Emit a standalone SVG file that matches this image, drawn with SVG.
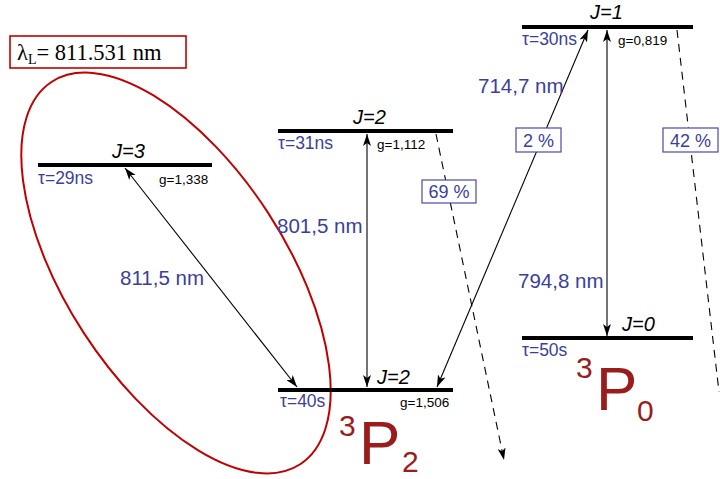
<svg xmlns="http://www.w3.org/2000/svg" width="720" height="479" viewBox="0 0 720 479">
<style>
.lvl{stroke:#000;stroke-width:4;fill:none}
.J{font-family:"Liberation Sans",Arial,sans-serif;font-style:italic;font-size:20px;fill:#000}
.tau{font-family:"Liberation Sans",Arial,sans-serif;font-size:17.5px;fill:#3a3f9c}
.g{font-family:"Liberation Sans",Arial,sans-serif;font-size:13.5px;fill:#000}
.wl{font-family:"Liberation Sans",Arial,sans-serif;font-size:20.5px;fill:#3a3f9c}
.pct{font-family:"Liberation Sans",Arial,sans-serif;font-size:18px;fill:#3a3f9c}
.pbox{fill:#fff;stroke:#4a4aa8;stroke-width:1.2}
.arr{stroke:#000;stroke-width:1.1;fill:none}
.dash{stroke:#000;stroke-width:1.1;fill:none;stroke-dasharray:8 6}
.term{font-family:"Liberation Sans",Arial,sans-serif;fill:#9b1c1c}
</style>
<defs>
<marker id="ah" viewBox="0 0 12 8" refX="12" refY="4" markerWidth="12" markerHeight="8" markerUnits="userSpaceOnUse" orient="auto-start-reverse">
<path d="M0,0 L12,4 L0,8 L3,4 z" fill="#000"/>
</marker>
</defs>

<g id="lambda-box">
<rect x="10" y="36" width="176" height="32" fill="#fff" stroke="#c00000" stroke-width="1.6"/>
<text x="17" y="60" font-family="'Liberation Serif','Times New Roman',serif" font-size="22.5" fill="#000">λ<tspan font-size="14" dy="4">L</tspan><tspan dy="-4">= 811.531 nm</tspan></text>
</g>

<g id="ellipse">
<ellipse cx="176" cy="273" rx="228" ry="110" transform="rotate(57 176 273)" fill="none" stroke="#c00000" stroke-width="2"/>
</g>

<g id="level-J3">
<line class="lvl" x1="38" y1="165" x2="212" y2="165"/>
<text class="J" x="112" y="158">J=3</text>
<text class="tau" x="38" y="184">τ=29ns</text>
<text class="g" x="159" y="184">g=1,338</text>
</g>

<g id="level-J2-upper">
<line class="lvl" x1="278" y1="131" x2="453" y2="131"/>
<text class="J" x="353" y="124">J=2</text>
<text class="tau" x="278" y="149">τ=31ns</text>
<text class="g" x="377" y="149">g=1,112</text>
</g>

<g id="level-J1">
<line class="lvl" x1="522" y1="27" x2="693" y2="27"/>
<text class="J" x="590" y="19">J=1</text>
<text class="tau" x="522" y="45">τ=30ns</text>
<text class="g" x="618" y="45">g=0,819</text>
</g>

<g id="level-J0">
<line class="lvl" x1="522" y1="338" x2="693" y2="338"/>
<text class="J" x="622" y="331">J=0</text>
<text class="tau" x="522" y="356">τ=50s</text>
</g>

<g id="level-J2-lower">
<line class="lvl" x1="278" y1="390" x2="453" y2="390"/>
<text class="J" x="377" y="384">J=2</text>
<text class="tau" x="280" y="407">τ=40s</text>
<text class="g" x="400" y="407">g=1,506</text>
</g>

<g id="connectors">
<line class="arr" x1="125" y1="168" x2="297" y2="387" marker-start="url(#ah)" marker-end="url(#ah)"/>
<line class="arr" x1="367" y1="134" x2="367" y2="387" marker-start="url(#ah)" marker-end="url(#ah)"/>
<line class="arr" x1="437" y1="387" x2="588" y2="30" marker-start="url(#ah)" marker-end="url(#ah)"/>
<line class="arr" x1="607" y1="30" x2="607" y2="336" marker-start="url(#ah)" marker-end="url(#ah)"/>
<line class="dash" x1="436" y1="134" x2="504" y2="460" marker-end="url(#ah)"/>
<line class="dash" x1="677" y1="30" x2="719" y2="392"/>
</g>

<g id="label-8115"><text class="wl" x="120" y="285">811,5 nm</text></g>
<g id="label-8015"><text class="wl" x="277" y="233">801,5 nm</text></g>
<g id="label-7147"><text class="wl" x="478" y="93">714,7 nm</text></g>
<g id="label-7948"><text class="wl" x="518" y="288">794,8 nm</text></g>

<g id="pct-69">
<rect class="pbox" x="422" y="180" width="54" height="23"/>
<text class="pct" x="449" y="198" text-anchor="middle">69 %</text>
</g>
<g id="pct-2">
<rect class="pbox" x="516" y="128" width="45" height="24"/>
<text class="pct" x="538.5" y="146.5" text-anchor="middle">2 %</text>
</g>
<g id="pct-42">
<rect class="pbox" x="663" y="128" width="55" height="24"/>
<text class="pct" x="690.5" y="146.5" text-anchor="middle">42 %</text>
</g>

<g id="term-3P2">
<text class="term" x="339" y="436" font-size="30">3</text>
<text class="term" x="359" y="464" font-size="62">P</text>
<text class="term" x="402" y="472" font-size="30">2</text>
</g>
<g id="term-3P0">
<text class="term" x="576" y="378" font-size="30">3</text>
<text class="term" x="596" y="410" font-size="62">P</text>
<text class="term" x="637" y="421" font-size="30">0</text>
</g>
</svg>
